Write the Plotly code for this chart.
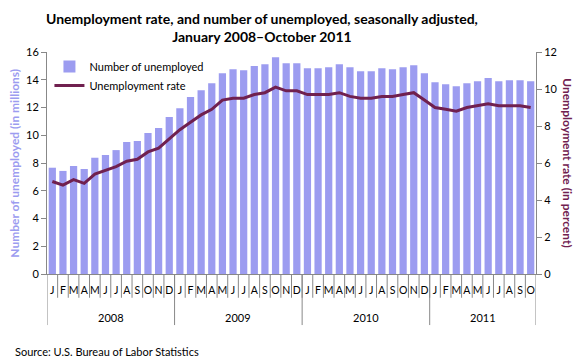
import plotly.graph_objects as go

years = ["2008"] * 12 + ["2009"] * 12 + ["2010"] * 12 + ["2011"] * 10
month_names = ["Jan", "Feb", "Mar", "Apr", "May", "Jun", "Jul", "Aug", "Sep", "Oct", "Nov", "Dec"]
month_letters = ["J", "F", "M", "A", "M", "J", "J", "A", "S", "O", "N", "D"]
months = month_names * 3 + month_names[:10]
tick_letters = month_letters * 3 + month_letters[:10]

unemployed = [
    7.66, 7.43, 7.79, 7.57, 8.38, 8.57, 8.93, 9.51, 9.58, 10.16, 10.52, 11.31,
    11.95, 12.75, 13.25, 13.75, 14.47, 14.76, 14.69, 15.00, 15.12, 15.62, 15.19, 15.19,
    14.83, 14.83, 14.90, 15.12, 14.90, 14.61, 14.61, 14.83, 14.76, 14.90, 15.05, 14.47,
    13.82, 13.68, 13.53, 13.75, 13.90, 14.12, 13.90, 13.97, 13.97, 13.90,
]
rate = [
    5.0, 4.8, 5.1, 4.9, 5.4, 5.6, 5.8, 6.1, 6.2, 6.6, 6.8, 7.3,
    7.8, 8.2, 8.6, 8.9, 9.4, 9.5, 9.5, 9.7, 9.8, 10.1, 9.9, 9.9,
    9.7, 9.7, 9.7, 9.8, 9.6, 9.5, 9.5, 9.6, 9.6, 9.7, 9.8, 9.4,
    9.0, 8.9, 8.8, 9.0, 9.1, 9.2, 9.1, 9.1, 9.1, 9.0,
]

x_keys = [f"{m} {y}" for m, y in zip(months, years)]
n = len(x_keys)

bar_color = "#9C9CF0"
line_color = "#70204F"
axis_color = "#888888"
font_family = "Lato, Open Sans, sans-serif"

fig = go.Figure()
fig.add_trace(go.Bar(
    x=x_keys, y=unemployed, name="Number of unemployed",
    marker=dict(color=bar_color, line=dict(width=0)),
))
fig.add_trace(go.Scatter(
    x=x_keys, y=rate, name="Unemployment rate", yaxis="y2",
    mode="lines", line=dict(color=line_color, width=3),
))

shapes = []
annotations = []
# separators between months
for i in range(1, n):
    shapes.append(dict(type="line", xref="x", yref="paper", x0=i - 0.5, x1=i - 0.5,
                       y0=0, y1=-0.107, line=dict(color=axis_color, width=1)))
# year dividers and labels
group_starts = [i for i in range(n) if i == 0 or years[i] != years[i - 1]]
group_bounds = group_starts + [n]
for b in group_bounds:
    shapes.append(dict(type="line", xref="x", yref="paper", x0=b - 0.5, x1=b - 0.5,
                       y0=0, y1=-0.23, line=dict(color=axis_color, width=1)))
for s, e in zip(group_bounds[:-1], group_bounds[1:]):
    annotations.append(dict(text=years[s], xref="x", yref="paper", x=(s + e - 1) / 2,
                            y=-0.195, xanchor="center", yanchor="middle",
                            showarrow=False, font=dict(size=11)))

annotations += [
    dict(text="<b>Unemployment rate, and number of unemployed, seasonally adjusted,<br>January 2008\u2013October 2011</b>",
         xref="paper", yref="paper", x=0.44, y=1.11, xanchor="center", yanchor="middle",
         showarrow=False, font=dict(size=14)),
    dict(text="<b>Number of unemployed (in millions)</b>", xref="paper", yref="paper",
         x=-0.068, y=0.5, xanchor="center", yanchor="middle", textangle=-90,
         showarrow=False, font=dict(size=12, color=bar_color)),
    dict(text="<b>Unemployment rate (in percent)</b>", xref="paper", yref="paper",
         x=1.065, y=0.5, xanchor="center", yanchor="middle", textangle=90,
         showarrow=False, font=dict(size=12, color=line_color)),
    dict(text="Source: U.S. Bureau of Labor Statistics", xref="paper", yref="paper",
         x=-0.07, y=-0.351, xanchor="left", yanchor="middle", showarrow=False,
         font=dict(size=11)),
]

fig.update_layout(
    width=580, height=363,
    margin=dict(l=47, r=44, t=52, b=89, autoexpand=False),
    paper_bgcolor="white", plot_bgcolor="white",
    font=dict(family=font_family, size=11, color="black"),
    bargap=0.32,
    showlegend=True,
    legend=dict(x=0.005, y=1.0, xanchor="left", yanchor="top",
                bgcolor="rgba(0,0,0,0)", font=dict(size=11),
                tracegroupgap=0, itemwidth=30),
    xaxis=dict(
        type="category", showline=True, linecolor=axis_color, linewidth=1,
        tickmode="array", tickvals=x_keys, ticktext=tick_letters, tickangle=0,
        ticks="", ticklabelstandoff=6,
        tickfont=dict(size=10.5), showgrid=False, automargin=False,
        range=[-0.5, n - 0.5],
    ),
    yaxis=dict(
        range=[0, 16], dtick=2, showline=True, linecolor=axis_color, linewidth=1,
        ticks="outside", ticklen=5, tickcolor=axis_color, showgrid=False, zeroline=False,
        automargin=False,
    ),
    yaxis2=dict(
        range=[0, 12], dtick=2, overlaying="y", side="right",
        showline=True, linecolor=axis_color, linewidth=1,
        ticks="outside", ticklen=5, tickcolor=axis_color, showgrid=False, zeroline=False,
        automargin=False,
    ),
    shapes=shapes,
    annotations=annotations,
)

fig.write_html("out.html", config={"displayModeBar": False},
               post_script="document.body.style.margin='0';document.body.style.overflow='hidden';")
